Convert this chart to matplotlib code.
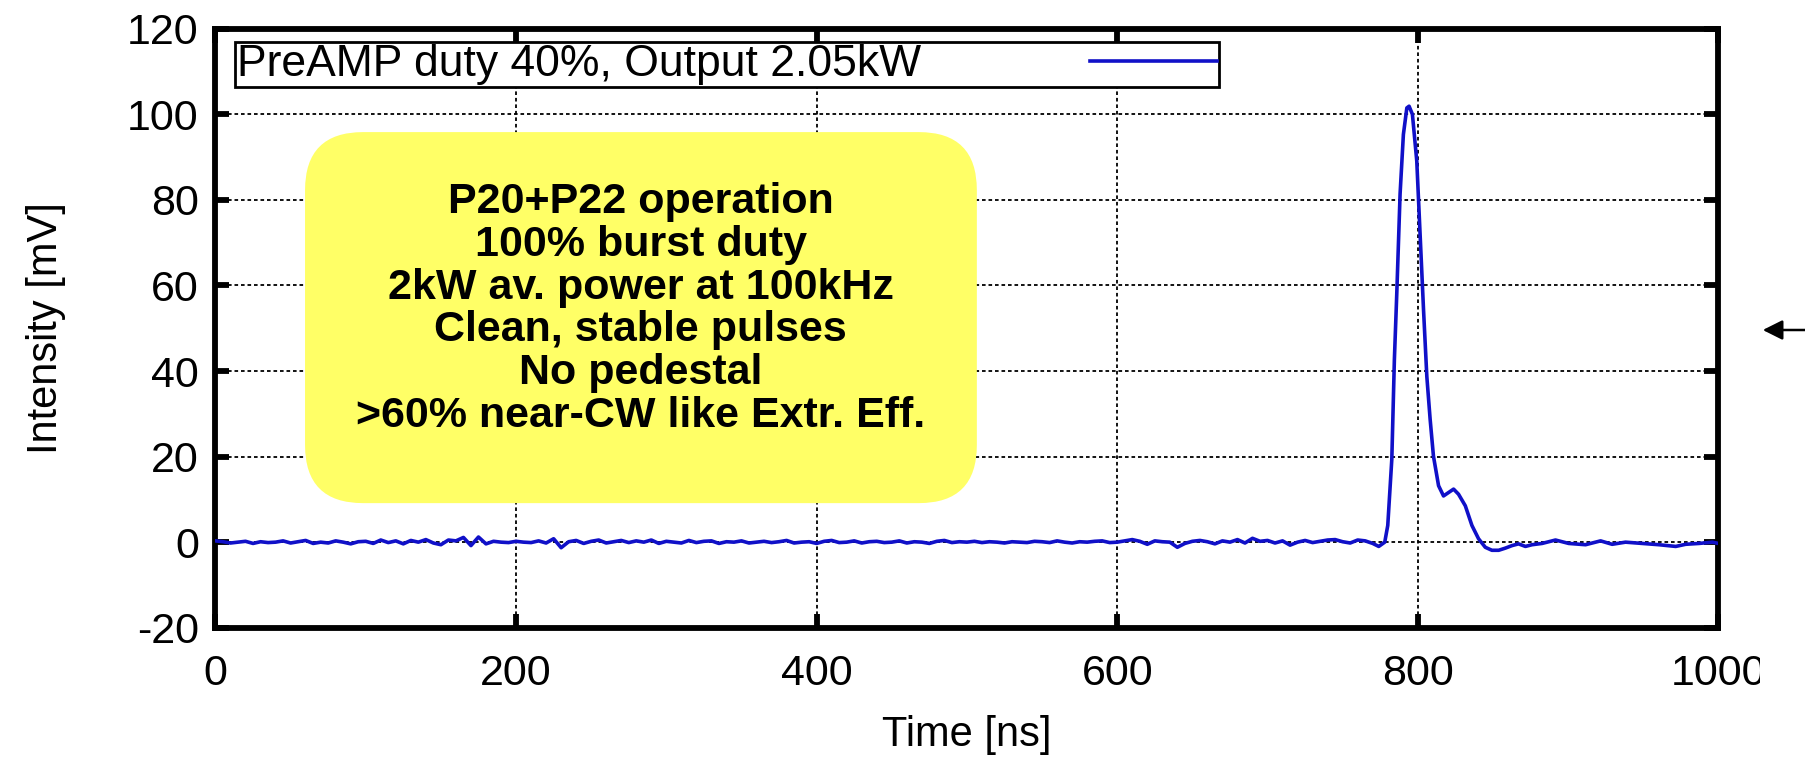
import numpy as np
import matplotlib
matplotlib.use("Agg")
import matplotlib.pyplot as plt
from matplotlib.patches import FancyBboxPatch, Rectangle

plt.rcParams['font.family'] = ['Liberation Sans', 'DejaVu Sans']
plt.rcParams['axes.unicode_minus'] = False

# baseline before the pulse, sampled every 5 ns from 0 to 770 ns
t_base = np.arange(0, 775, 5)
v_base = [
    0.3, 0.1, -0.2, 0.0, 0.2, -0.3, 0.1, -0.1, 0.0, 0.3,
    -0.2, 0.1, 0.4, -0.3, 0.0, -0.2, 0.3, 0.0, -0.4, 0.1,
    0.2, -0.3, 0.5, -0.1, 0.3, -0.4, 0.4, 0.0, 0.6, -0.2,
    -0.6, 0.5, 0.3, 1.1, -0.8, 1.2, -0.4, 0.2, 0.0, -0.1,
    0.2, 0.0, -0.1, 0.3, -0.2, 0.8, -1.3, 0.1, 0.4, -0.3,
    0.2, 0.5, -0.2, 0.1, 0.4, -0.1, 0.3, 0.0, 0.5, -0.3,
    0.2, 0.0, -0.2, 0.4, -0.1, 0.2, 0.3, -0.3, 0.1, 0.0,
    0.3, -0.2, 0.0, 0.2, -0.1, 0.1, 0.4, -0.2, 0.0, 0.1,
    -0.3, 0.2, 0.4, -0.1, 0.0, 0.3, -0.2, 0.1, 0.2, -0.1,
    0.0, 0.3, -0.2, 0.1, 0.0, -0.3, 0.2, 0.4, -0.1, 0.1,
    0.0, 0.2, -0.1, 0.1, 0.0, -0.2, 0.1, 0.0, -0.1, 0.2,
    0.1, -0.1, 0.3, 0.0, -0.2, 0.1, 0.0, 0.2, 0.3, -0.1,
    0.0, 0.3, 0.6, 0.2, -0.5, 0.3, 0.1, 0.0, -1.2, -0.3,
    0.2, 0.4, 0.1, -0.4, 0.3, 0.0, 0.6, -0.2, 0.9, 0.2,
    0.4, -0.2, 0.3, -0.7, 0.0, 0.4, -0.1, 0.2, 0.5, 0.6,
    0.1, -0.2, 0.5, 0.3, -0.3,
]

# the pulse and the tail after it
t_pulse = [774, 778, 780, 782.7, 784.4, 786, 788.2, 790.4, 792.7, 794.2,
           796.4, 799.3, 801.6, 803.8, 806, 808.2, 810.4, 813.8, 817.1, 820.4,
           823.8, 827.1, 831.6, 836, 840.4, 844.9, 849.3, 853.8, 858.2, 862.7,
           867, 871.6, 876, 882.7, 891.6, 900.4, 911.6, 921.6, 929.3, 938.2,
           949.3, 960.4, 971.6, 978.2, 987.1, 996, 1000]
v_pulse = [-1.0, 0.0, 3.9, 19.4, 42.6, 58.1, 81.4, 95.3, 101.5, 101.9,
           100.0, 89.1, 71.3, 54.3, 38.7, 28.7, 20.1, 13.2, 10.8, 11.6,
           12.4, 11.2, 8.5, 3.9, 0.8, -1.2, -1.9, -1.9, -1.4, -0.8,
           -0.4, -1.0, -0.6, -0.3, 0.5, -0.3, -0.6, 0.3, -0.5, 0.0,
           -0.3, -0.6, -1.0, -0.5, -0.3, 0.0, -0.3]

time_ns = np.concatenate([t_base, t_pulse])
intensity = np.concatenate([v_base, v_pulse])

x_ticks = [0, 200, 400, 600, 800, 1000]
y_ticks = [-20, 0, 20, 40, 60, 80, 100, 120]

box_lines = [
    "P20+P22 operation",
    "100% burst duty",
    "2kW av. power at 100kHz",
    "Clean, stable pulses",
    "No pedestal",
    ">60% near-CW like Extr. Eff.",
]

fig = plt.figure(figsize=(18.06, 7.63), dpi=100)
ax = fig.add_axes([0.1193, 0.1773, 0.8322, 0.785])

ax.plot(time_ns, intensity, color='#1010c8', lw=2.6,
        label='PreAMP duty 40%, Output 2.05kW', zorder=3)

ax.set_xlim(0, 1000)
ax.set_ylim(-20, 120)
ax.set_xticks(x_ticks)
ax.set_yticks(y_ticks)
ax.grid(True, color='black', linestyle=(0, (2, 1.6)), lw=1.3)
ax.tick_params(direction='in', length=10, width=4.2, labelsize=31,
               top=True, right=True)
ax.tick_params(axis='x', pad=19)
ax.tick_params(axis='y', pad=12)
for sp in ax.spines.values():
    sp.set_linewidth(4.2)

ax.set_xlabel('Time [ns]', fontsize=30, labelpad=15)
ax.set_ylabel('Intensity [mV]', fontsize=30, labelpad=44)

leg = ax.legend(loc='upper left', bbox_to_anchor=(0.013, 0.978),
                fontsize=32, markerfirst=False, fancybox=False,
                framealpha=1, edgecolor='black', borderpad=0.05,
                handlelength=2.85, handletextpad=3.8, borderaxespad=0)
leg.get_frame().set_linewidth(2.0)

# yellow note box
w_px = ax.get_position().width * fig.get_figwidth() * fig.dpi
h_px = ax.get_position().height * fig.get_figheight() * fig.dpi
box = FancyBboxPatch((0.0596, 0.208), 0.447, 0.6195,
                     boxstyle='round,pad=0,rounding_size=%f' % (58 / w_px),
                     mutation_aspect=w_px / h_px,
                     transform=ax.transAxes, fc='#ffff66', ec='none', zorder=2)
ax.add_patch(box)
ax.text(0.283, 0.532, "\n".join(box_lines), transform=ax.transAxes,
        ha='center', va='center', fontsize=31, fontweight='bold',
        linespacing=1.09, zorder=4)

# white strip on the right edge, with the arrow pointing left
fig.add_artist(Rectangle((1760, 0), 60, 150, transform=None,
                         fc='white', ec='none', zorder=10))
ax.annotate('', xy=(1760, 433), xycoords='figure pixels',
            xytext=(1812, 433), textcoords='figure pixels',
            arrowprops=dict(arrowstyle='-|>', color='black', lw=1.8,
                            mutation_scale=30), annotation_clip=False)

fig.savefig('out.png', dpi=100)
